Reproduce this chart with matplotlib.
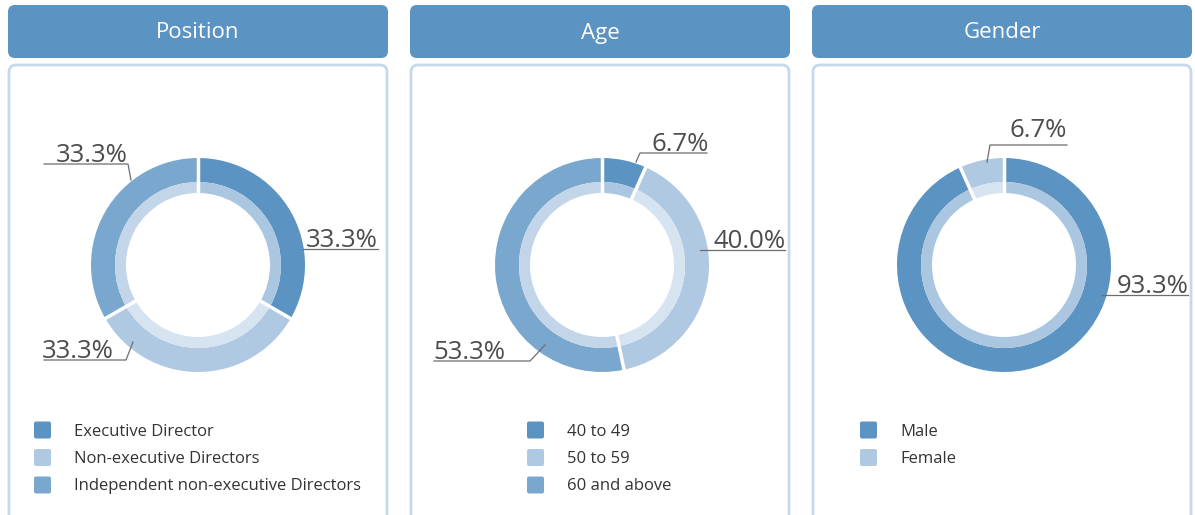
import matplotlib
matplotlib.use("Agg")
import numpy as np
import matplotlib.pyplot as plt
from matplotlib.patches import FancyBboxPatch

plt.rcParams['font.family'] = ['Open Sans', 'DejaVu Sans']

# data
titles = ["Position", "Age", "Gender"]
position_labels = ["Executive Director", "Non-executive Directors",
                   "Independent non-executive Directors"]
position_values = [33.3, 33.3, 33.3]
age_labels = ["40 to 49", "50 to 59", "60 and above"]
age_values = [6.7, 40.0, 53.3]
gender_labels = ["Male", "Female"]
gender_values = [93.3, 6.7]

DARK = "#5b93c2"
LIGHT = "#b0c9e2"
MID = "#7aa7cd"
inner_of = {DARK: "#abc6e0", LIGHT: "#d6e3f0", MID: "#c3d6e9"}

W, H = 1195, 515
fig = plt.figure(figsize=(W / 100, H / 100), dpi=100)
ax = fig.add_axes([0, 0, 1, 1])


def Y(y):
    return H - y


panels = [
    dict(x0=8, cx=198, values=position_values, labels=position_labels,
         colors=[DARK, LIGHT, MID], leg_x=34,
         notes=[(378, 247, 'right', [(303, 249), (378, 249)]),
                (42, 358, 'left', [(44, 360), (126, 360), (133, 342)]),
                (128, 162, 'right', [(44, 164), (128, 164), (131, 180)])]),
    dict(x0=410, cx=602, values=age_values, labels=age_labels,
         colors=[DARK, LIGHT, MID], leg_x=527,
         notes=[(709, 151, 'right', [(636, 162), (640, 153), (707, 153)]),
                (786, 248, 'right', [(700, 250), (785, 250)]),
                (433, 359, 'left', [(434, 361), (530, 361), (545, 345)])]),
    dict(x0=812, cx=1004, values=gender_values, labels=gender_labels,
         colors=[DARK, LIGHT], leg_x=860,
         notes=[(1189, 293, 'right', [(1102, 295), (1188, 295)]),
                (1067, 137, 'right', [(987, 162), (990, 145), (1067, 145)])]),
]

cy = 265
R_OUT, R_MID, R_IN = 107, 83, 72

for title, p in zip(titles, panels):
    x0 = p['x0']
    # header
    ax.add_patch(FancyBboxPatch((x0, Y(58)), 380, 53,
                                boxstyle="round,pad=0,rounding_size=7",
                                fc=DARK, ec="none"))
    ax.text(x0 + 190, Y(33), title, color="white", fontsize=16,
            ha='center', va='center')
    # body box
    ax.add_patch(FancyBboxPatch((x0 + 1, Y(530)), 378, 465,
                                boxstyle="round,pad=0,rounding_size=7",
                                fc="none", ec="#c6d9ec", lw=2))

    # donut: outer ring and inner lighter band
    c = (p['cx'], Y(cy))
    ax.pie(p['values'], colors=p['colors'], radius=R_OUT, center=c,
           startangle=90, counterclock=False, frame=True,
           wedgeprops=dict(width=R_OUT - R_MID, edgecolor='none', linewidth=0))
    ax.pie(p['values'], colors=[inner_of[k] for k in p['colors']], radius=R_MID,
           center=c, startangle=90, counterclock=False, frame=True,
           wedgeprops=dict(width=R_MID - R_IN, edgecolor='none', linewidth=0))
    # white gaps between wedges
    vals = np.array(p['values'])
    bounds = 90 - 360 * np.cumsum(np.r_[0, vals[:-1]]) / vals.sum()
    for a in np.deg2rad(bounds):
        ax.plot([c[0] + (R_IN - 1) * np.cos(a), c[0] + (R_OUT + 1) * np.cos(a)],
                [c[1] + (R_IN - 1) * np.sin(a), c[1] + (R_OUT + 1) * np.sin(a)],
                color='white', lw=2.5, solid_capstyle='butt')

    # value labels with leader lines
    for v, (tx, ty, ha, pts) in zip(p['values'], p['notes']):
        ax.text(tx, Y(ty), f"{v:.1f}%", fontsize=18.5, color="#4d4d4d",
                ha=ha, va='baseline')
        ax.plot([q[0] for q in pts], [Y(q[1]) for q in pts],
                color="#6d6d6d", lw=0.9)

    # legend
    for i, (lab, col) in enumerate(zip(p['labels'], p['colors'])):
        yy = 430 + i * 27.5
        ax.add_patch(FancyBboxPatch((p['leg_x'], Y(yy + 8.5)), 17, 17,
                                    boxstyle="round,pad=0,rounding_size=2",
                                    fc=col, ec="none"))
        ax.text(p['leg_x'] + 40, Y(yy + 1.5), lab, fontsize=12, color="#333333",
                ha='left', va='center')

ax.set_xlim(0, W)
ax.set_ylim(0, H)
ax.set_aspect('auto')
ax.axis('off')
fig.savefig("out.png", dpi=100)
